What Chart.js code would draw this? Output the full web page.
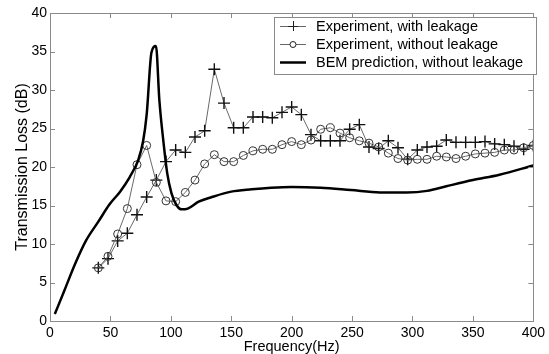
<!DOCTYPE html>
<html>
<head>
<meta charset="utf-8">
<script src="https://cdn.jsdelivr.net/npm/chart.js@4"></script>
<style>
  html, body { margin: 0; padding: 0; background: #fff; }
</style>
</head>
<body>
<canvas id="tlChart" width="549" height="354"></canvas>
<script>
const expFreq = [40, 48, 56, 64, 72, 80, 88, 96, 104, 112, 120, 128, 136, 144, 152, 160, 168, 176, 184, 192, 200,
    208, 216, 224, 232, 240, 248, 256, 264, 272, 280, 288, 296, 304, 312, 320, 328, 336, 344, 352, 360, 368, 376, 384, 392, 400];
const tlWithLeak = [6.9, 8.1, 10.4, 11.4, 13.8, 16.1, 18.3, 20.7, 22.2, 21.9, 23.9, 24.7, 32.7, 28.3, 25.1, 25.1, 26.5, 26.5, 26.4, 27.1, 27.8,
    26.8, 24.2, 23.4, 23.4, 23.4, 24.9, 25.5, 22.6, 22.4, 23.4, 22.5, 21.0, 22.2, 22.6, 22.7, 23.5, 23.2, 23.2, 23.2, 23.3, 23.0, 22.9, 22.7, 22.3, 22.8];
const tlNoLeak = [6.9, 8.4, 11.3, 14.6, 20.3, 22.8, 18.0, 15.6, 15.5, 16.7, 18.3, 20.4, 21.6, 20.7, 20.7, 21.5, 22.1, 22.3, 22.3, 22.9, 23.3,
    22.9, 23.5, 24.9, 25.1, 24.4, 23.8, 23.4, 23.1, 22.6, 21.8, 21.1, 20.9, 21.0, 21.0, 21.4, 21.3, 21.1, 21.4, 21.7, 21.8, 21.9, 22.2, 22.2, 22.5, 22.8];
const bemFreq = [4, 12, 21, 30, 40, 49, 58, 66, 73, 77, 80, 84, 87.7, 90.5, 94, 97, 100.5, 104.5, 109, 114, 123, 134, 150, 167, 183, 200,
    224, 249, 273, 295, 312, 328, 350, 372, 400];
const bemTL = [0.9, 4.0, 7.5, 10.5, 12.9, 15.1, 16.8, 18.7, 20.9, 23.3, 26.8, 34.9, 35.7, 28.7, 23.1, 19.2, 16.6, 15.1, 14.5, 14.6, 15.5, 16.1, 16.8, 17.1, 17.3, 17.4,
    17.3, 17.0, 16.7, 16.7, 16.9, 17.5, 18.3, 19.0, 20.2];
const xTicks = [0, 50, 100, 150, 200, 250, 300, 350, 400];
const yTicks = [0, 5, 10, 15, 20, 25, 30, 35, 40];
const legendLabels = ['Experiment, with leakage', 'Experiment, without leakage', 'BEM prediction, without leakage'];

const family = 'Liberation Sans, Arial, sans-serif';
const tickFont = { family: family, size: 14 };

// box with inward ticks, like matlab
const boxPlugin = {
    id: 'box',
    afterDatasetsDraw(chart) {
        const { ctx, chartArea: a, scales } = chart;
        ctx.save();
        ctx.strokeStyle = '#8a8a8a';
        ctx.lineWidth = 1;
        ctx.strokeRect(Math.round(a.left) + 0.5, Math.round(a.top) + 0.5, Math.round(a.right - a.left), Math.round(a.bottom - a.top));
        ctx.beginPath();
        xTicks.forEach(v => {
            const x = Math.round(scales.x.getPixelForValue(v)) + 0.5;
            ctx.moveTo(x, a.bottom); ctx.lineTo(x, a.bottom - 5);
            ctx.moveTo(x, a.top); ctx.lineTo(x, a.top + 5);
        });
        yTicks.forEach(v => {
            const y = Math.round(scales.y.getPixelForValue(v)) + 0.5;
            ctx.moveTo(a.left, y); ctx.lineTo(a.left + 5, y);
            ctx.moveTo(a.right, y); ctx.lineTo(a.right - 5, y);
        });
        ctx.stroke();
        ctx.restore();
    }
};

const legendPlugin = {
    id: 'boxLegend',
    afterDraw(chart) {
        const { ctx } = chart;
        const left = 274, top = 17, w = 262, h = 57;
        ctx.save();
        ctx.fillStyle = '#fff';
        ctx.fillRect(left, top, w, h);
        ctx.strokeStyle = '#8a8a8a';
        ctx.lineWidth = 1;
        ctx.strokeRect(left + 0.5, top + 0.5, w, h);
        ctx.font = '14.5px ' + family;
        ctx.textBaseline = 'middle';
        const rows = [26, 44, 62];
        rows.forEach((y, i) => {
            ctx.strokeStyle = i < 2 ? '#666' : '#000';
            ctx.lineWidth = i < 2 ? 1 : 2.5;
            ctx.beginPath();
            ctx.moveTo(280, y + 0.5); ctx.lineTo(306, y + 0.5);
            ctx.stroke();
            ctx.lineWidth = 1;
            ctx.strokeStyle = '#222';
            if (i === 0) {
                ctx.beginPath();
                ctx.moveTo(288, y + 0.5); ctx.lineTo(298, y + 0.5);
                ctx.moveTo(293.5, y - 5); ctx.lineTo(293.5, y + 5);
                ctx.stroke();
            } else if (i === 1) {
                ctx.fillStyle = '#fff';
                ctx.beginPath();
                ctx.arc(293, y + 0.5, 3, 0, Math.PI * 2);
                ctx.fill();
                ctx.stroke();
            }
            ctx.fillStyle = '#000';
            ctx.fillText(legendLabels[i], 316, y + 1);
        });
        ctx.restore();
    }
};

new Chart(document.getElementById('tlChart'), {
    type: 'scatter',
    data: {
        datasets: [
            {
                label: legendLabels[0],
                data: expFreq.map((f, i) => ({ x: f, y: tlWithLeak[i] })),
                showLine: true,
                borderColor: '#6a6a6a',
                borderWidth: 1,
                pointStyle: 'cross',
                pointRadius: 6,
                pointBorderColor: '#111',
                pointBorderWidth: 1.4,
                order: 2
            },
            {
                label: legendLabels[1],
                data: expFreq.map((f, i) => ({ x: f, y: tlNoLeak[i] })),
                showLine: true,
                borderColor: '#6a6a6a',
                borderWidth: 1,
                pointStyle: 'circle',
                pointRadius: 4,
                pointBackgroundColor: 'rgba(255,255,255,0)',
                pointBorderColor: '#333',
                pointBorderWidth: 1,
                order: 1
            },
            {
                label: legendLabels[2],
                data: bemFreq.map((f, i) => ({ x: f, y: bemTL[i] })),
                showLine: true,
                borderColor: '#000',
                borderWidth: 2.5,
                pointRadius: 0,
                cubicInterpolationMode: 'monotone',
                order: 0
            }
        ]
    },
    options: {
        responsive: false,
        animation: false,
        layout: { padding: { top: 13, right: 11, left: 0, bottom: 0 } },
        plugins: {
            legend: { display: false },
            tooltip: { enabled: false }
        },
        scales: {
            x: {
                type: 'linear',
                min: 0,
                max: 400,
                afterBuildTicks: s => { s.ticks = xTicks.map(v => ({ value: v })); },
                afterFit: s => { s.height = 33; },
                grid: { display: false, drawTicks: false },
                border: { display: false },
                ticks: { color: '#000', font: tickFont, padding: 4, maxRotation: 0 },
                title: { display: true, text: 'Frequency(Hz)', color: '#000', font: { family: family, size: 14.5 }, padding: { top: 0, bottom: -2 } }
            },
            y: {
                min: 0,
                max: 40,
                afterBuildTicks: s => { s.ticks = yTicks.map(v => ({ value: v })); },
                afterFit: s => { s.width = 50; },
                grid: { display: false, drawTicks: false },
                border: { display: false },
                ticks: { color: '#000', font: tickFont, padding: 3 },
                title: { display: true, text: 'Transmission Loss (dB)', color: '#000', font: { family: family, size: 16 }, padding: { top: 13, bottom: 0 } }
            }
        }
    },
    plugins: [boxPlugin, legendPlugin]
});
</script>
</body>
</html>
